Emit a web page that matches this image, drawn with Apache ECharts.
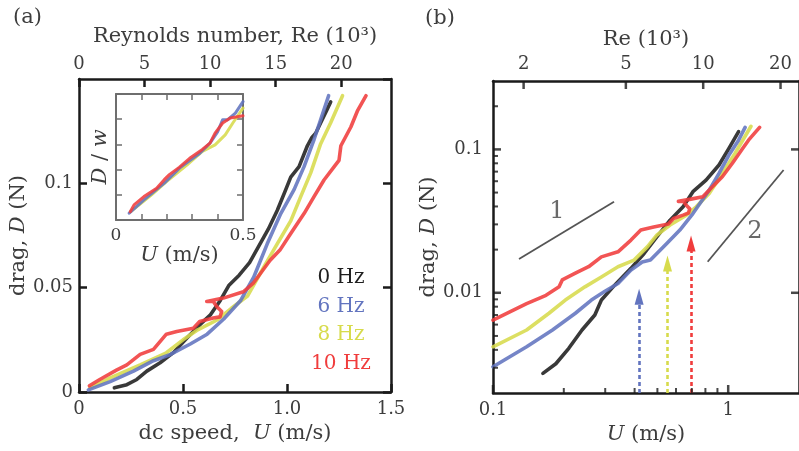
<!DOCTYPE html>
<html>
<head>
<meta charset="utf-8">
<script src="https://cdn.jsdelivr.net/npm/echarts@6/dist/echarts.min.js"></script>
<style>
html, body { margin: 0; padding: 0; background: #fff; }
#main { width: 799px; height: 451px; }
</style>
</head>
<body>
<div id="main"></div>
<script>
// ---- data, panel (a): [U (m/s), D (N)]
var aBlack = [[0.17,0.002],[0.23,0.0035],[0.278,0.006],[0.326,0.01],[0.39,0.014],[0.455,0.019],[0.52,0.026],[0.584,0.0325],[0.632,0.037],[0.68,0.044],[0.72,0.051],[0.77,0.056],[0.82,0.062],[0.865,0.07],[0.91,0.078],[0.953,0.087],[0.994,0.097],[1.018,0.103],[1.058,0.108],[1.098,0.118],[1.12,0.122],[1.138,0.124],[1.162,0.129],[1.186,0.134],[1.21,0.139]];
var aBlue = [[0.045,0.001],[0.15,0.005],[0.262,0.01],[0.358,0.015],[0.44,0.018],[0.535,0.023],[0.616,0.0277],[0.696,0.035],[0.776,0.0437],[0.84,0.055],[0.905,0.071],[0.97,0.0855],[1.034,0.097],[1.082,0.108],[1.13,0.121],[1.162,0.1305],[1.2,0.142]];
var aYellow = [[0.053,0.002],[0.15,0.0068],[0.294,0.013],[0.42,0.0188],[0.5,0.025],[0.566,0.0295],[0.664,0.0345],[0.731,0.04],[0.81,0.046],[0.889,0.06],[0.953,0.071],[1.018,0.082],[1.066,0.0936],[1.114,0.105],[1.162,0.119],[1.21,0.129],[1.267,0.142]];
var aRed = [[0.05,0.003],[0.1,0.006],[0.18,0.0105],[0.23,0.013],[0.294,0.018],[0.358,0.0204],[0.42,0.0277],[0.47,0.029],[0.55,0.0306],[0.58,0.0338],[0.645,0.0355],[0.678,0.036],[0.686,0.0386],[0.662,0.041],[0.646,0.0434],[0.614,0.0434],[0.694,0.045],[0.79,0.048],[0.837,0.052],[0.918,0.063],[0.966,0.068],[1.018,0.076],[1.082,0.0855],[1.13,0.0936],[1.178,0.1016],[1.227,0.108],[1.25,0.111],[1.259,0.118],[1.307,0.127],[1.34,0.135],[1.38,0.142]];

// inset: [U, D/w (arb.)]
var inBlue = [[0.052,0.27],[0.11,0.8],[0.19,1.46],[0.25,2.06],[0.33,2.65],[0.37,3.05],[0.4,3.5],[0.42,3.98],[0.44,3.98],[0.47,4.24],[0.5,4.7]];
var inYellow = [[0.058,0.33],[0.14,1.0],[0.2,1.53],[0.28,2.19],[0.34,2.72],[0.39,2.98],[0.43,3.38],[0.46,3.85],[0.5,4.44]];
var inRed = [[0.056,0.33],[0.071,0.6],[0.11,0.93],[0.16,1.26],[0.19,1.6],[0.21,1.8],[0.25,2.1],[0.29,2.45],[0.34,2.8],[0.37,3.05],[0.39,3.45],[0.42,3.85],[0.45,4.05],[0.5,4.14]];

// ---- data, panel (b): [U (m/s), D (N)]
var bBlack = [[0.163,0.00274],[0.185,0.0032],[0.21,0.0041],[0.239,0.0055],[0.271,0.007],[0.289,0.0089],[0.329,0.0113],[0.386,0.0148],[0.439,0.0188],[0.498,0.0246],[0.566,0.0321],[0.643,0.0398],[0.708,0.0507],[0.805,0.061],[0.914,0.0778],[1.007,0.1016],[1.107,0.133]];
var bBlue = [[0.1,0.00305],[0.139,0.0042],[0.179,0.0055],[0.224,0.0072],[0.262,0.0089],[0.298,0.0102],[0.34,0.0116],[0.386,0.0144],[0.431,0.0164],[0.467,0.0169],[0.548,0.0221],[0.623,0.0274],[0.708,0.0357],[0.83,0.052],[0.914,0.068],[1.007,0.0913],[1.107,0.116],[1.18,0.1425]];
var bYellow = [[0.1,0.0042],[0.139,0.0055],[0.173,0.0072],[0.203,0.0089],[0.246,0.011],[0.289,0.0129],[0.34,0.0152],[0.398,0.0169],[0.453,0.0209],[0.498,0.0253],[0.566,0.0297],[0.664,0.0348],[0.731,0.0398],[0.83,0.0493],[0.944,0.068],[1.07,0.094],[1.25,0.145]];
var bRed = [[0.1,0.00645],[0.139,0.0084],[0.168,0.0096],[0.191,0.011],[0.197,0.0123],[0.224,0.0137],[0.255,0.0152],[0.289,0.0178],[0.34,0.0193],[0.386,0.0233],[0.425,0.0274],[0.482,0.0288],[0.557,0.0302],[0.585,0.033],[0.643,0.0348],[0.678,0.036],[0.686,0.0386],[0.662,0.041],[0.646,0.0434],[0.614,0.0434],[0.694,0.045],[0.78,0.0468],[0.857,0.055],[0.944,0.0645],[1.04,0.0798],[1.14,0.099],[1.22,0.116],[1.36,0.1425]];

var slope1 = [[0.129,0.0172],[0.327,0.0432]];
var slope2 = [[0.818,0.01645],[1.72,0.0718]];
var slopeLabels = [['1',0.187,0.0366],['2',1.30,0.0267]];
var arrowU = [0.418, 0.552, 0.695];
var arrowTip = [0.0094, 0.016, 0.0221];

var hzLabels = ['0 Hz', '6 Hz', '8 Hz', '10 Hz'];
var colors = ['#1e1e1e', '#6274bf', '#d7db4c', '#f03c3c'];

// panel (b) ranges and tick values
var bUmin = 0.1, bUmax = 2, bDmin = 0.002, bDmax = 0.3, bReMin = 1.52, bReMax = 23.6;
var bMajorU = [0.1, 1];
var bMinorU = [0.2,0.3,0.4,0.5,0.6,0.7,0.8,0.9];
var bMajorD = [0.01, 0.1];
var bMinorD = [0.003,0.004,0.005,0.006,0.007,0.008,0.009,0.02,0.03,0.04,0.05,0.06,0.07,0.08,0.09,0.2];
var bReTicks = [2, 5, 10, 20];

var FONT = 'DejaVu Serif';
var INK = '#1a1a1a';
var TXT = '#3d3d3d';
var GREY = '#6e6e6e';

function lg(v) { return Math.log10(v); }
function logPts(arr) { return arr.map(function (p) { return [lg(p[0]), lg(p[1])]; }); }

var nameStyle = {
  fontFamily: FONT, fontSize: 21, color: TXT,
  rich: { i: { fontFamily: FONT, fontSize: 21, color: TXT, fontStyle: 'italic' } }
};

function axis(o) {
  var base = {
    type: 'value',
    axisLine: { show: true, onZero: false, lineStyle: { color: INK, width: 2.5 } },
    axisTick: { show: true, inside: true, length: 8, lineStyle: { color: INK, width: 2.5 } },
    axisLabel: { show: false, color: TXT, fontFamily: FONT, fontSize: 18 },
    splitLine: { show: false },
    nameLocation: 'middle',
    nameTextStyle: nameStyle
  };
  for (var k in o) {
    if (base[k] && typeof base[k] === 'object' && !Array.isArray(base[k]) && typeof o[k] === 'object') {
      base[k] = Object.assign({}, base[k], o[k]);
    } else {
      base[k] = o[k];
    }
  }
  return base;
}

var insetLine = { lineStyle: { color: GREY, width: 2 } };
var insetTick = { length: 6, lineStyle: { color: GREY, width: 1.5 } };
var noTick = { show: false };

var xAxes = [
  // 0: (a) bottom
  axis({ gridIndex: 0, position: 'bottom', min: 0, max: 1.5, interval: 0.5,
    axisLabel: { show: true, margin: 8, formatter: function (v) { return v === 0 ? '0' : v.toFixed(1); } },
    name: 'dc speed,  {i|U} (m/s)', nameGap: 27 }),
  // 1: (a) top Re
  axis({ gridIndex: 0, position: 'top', min: 0, max: 23.8, interval: 5,
    axisLabel: { show: true, margin: 6, showMaxLabel: false },
    name: 'Reynolds number, Re (10³)', nameGap: 32 }),
  // 2: inset bottom
  axis({ gridIndex: 1, position: 'bottom', min: 0, max: 0.5, interval: 0.1,
    axisLine: insetLine, axisTick: insetTick,
    axisLabel: { show: true, margin: 7, fontSize: 17,
      formatter: function (v) { return v === 0 ? '0' : (Math.abs(v - 0.5) < 1e-9 ? '0.5' : ''); } },
    name: '{i|U} (m/s)', nameGap: 12 }),
  // 3: inset top
  axis({ gridIndex: 1, position: 'top', min: 0, max: 0.5, interval: 0.1,
    axisLine: insetLine, axisTick: insetTick }),
  // 4: (b) bottom, log10(U)
  axis({ gridIndex: 2, position: 'bottom', min: lg(bUmin), max: lg(bUmax),
    axisTick: noTick,
    axisLabel: { show: true, margin: 8, customValues: bMajorU.map(lg),
      formatter: function (v) { return String(Math.round(Math.pow(10, v) * 10) / 10); } },
    name: '{i|U} (m/s)', nameGap: 28 }),
  // 5: (b) top, log10(Re)
  axis({ gridIndex: 2, position: 'top', min: lg(bReMin), max: lg(bReMax),
    axisTick: noTick,
    axisLabel: { show: true, margin: 8, customValues: bReTicks.map(lg),
      formatter: function (v) { return String(Math.round(Math.pow(10, v))); } },
    name: 'Re (10³)', nameGap: 31 })
];

var yAxes = [
  // 0: (a) left
  axis({ gridIndex: 0, position: 'left', min: 0, max: 0.15, interval: 0.05,
    axisLabel: { show: true, margin: 6, showMaxLabel: false },
    name: 'drag, {i|D} (N)', nameGap: 47 }),
  // 1: (a) right
  axis({ gridIndex: 0, position: 'right', min: 0, max: 0.15, interval: 0.05 }),
  // 2: inset left
  axis({ gridIndex: 1, position: 'left', min: 0, max: 5, interval: 1,
    axisLine: insetLine, axisTick: insetTick,
    name: '{i|D} / {i|w}', nameGap: 5 }),
  // 3: inset right
  axis({ gridIndex: 1, position: 'right', min: 0, max: 5, interval: 1,
    axisLine: insetLine, axisTick: insetTick }),
  // 4: (b) left, log10(D)
  axis({ gridIndex: 2, position: 'left', min: lg(bDmin), max: lg(bDmax),
    axisTick: noTick,
    axisLabel: { show: true, margin: 10, customValues: bMajorD.map(lg),
      formatter: function (v) { return String(Math.round(Math.pow(10, v) * 100) / 100); } },
    name: 'drag, {i|D} (N)', nameGap: 44 }),
  // 5: (b) right
  axis({ gridIndex: 2, position: 'right', min: lg(bDmin), max: lg(bDmax), axisTick: noTick })
];

function curve(data, color, xi, yi, w) {
  return {
    type: 'line', data: data, xAxisIndex: xi, yAxisIndex: yi,
    symbol: 'none', silent: true, clip: true,
    lineStyle: { color: color, width: w || 3.6, opacity: 0.88, join: 'round', cap: 'round' }
  };
}

// log-axis tick marks for panel (b), placed through the grid's own scales
function ticks(points, xi, yi, size, offset) {
  return {
    type: 'scatter', xAxisIndex: xi, yAxisIndex: yi, silent: true, clip: false, z: 5,
    symbol: 'rect', symbolSize: size, symbolOffset: offset,
    itemStyle: { color: INK }, data: points
  };
}

var series = [];
var order = [0, 2, 1, 3];
var aSets = [aBlack, aBlue, aYellow, aRed];
var bSets = [bBlack, bBlue, bYellow, bRed];
order.forEach(function (i) { series.push(curve(aSets[i], colors[i], 0, 0)); });
[[inYellow, 2], [inBlue, 1], [inRed, 3]].forEach(function (s) {
  series.push(curve(s[0], colors[s[1]], 2, 2, 3));
});
order.forEach(function (i) { series.push(curve(logPts(bSets[i]), colors[i], 4, 4)); });

// slope guides
[slope1, slope2].forEach(function (s) {
  series.push({ type: 'line', data: logPts(s), xAxisIndex: 4, yAxisIndex: 4, symbol: 'none', silent: true,
    lineStyle: { color: '#555', width: 1.8 } });
});
series.push({
  type: 'scatter', xAxisIndex: 4, yAxisIndex: 4, silent: true, symbolSize: 1,
  itemStyle: { color: 'rgba(0,0,0,0)' },
  data: slopeLabels.map(function (s) { return { name: s[0], value: [lg(s[1]), lg(s[2])] }; }),
  label: { show: true, position: 'inside', formatter: '{b}', fontFamily: FONT, fontSize: 24, color: '#444' }
});

// dashed arrows
arrowU.forEach(function (u, k) {
  series.push({
    type: 'line', data: [], xAxisIndex: 4, yAxisIndex: 4, silent: true,
    markLine: {
      silent: true, symbol: ['none', 'triangle'], symbolSize: [9, 16],
      label: { show: false },
      lineStyle: { color: colors[k + 1], width: 2.6, type: [4, 3] },
      data: [[{ coord: [lg(u), lg(bDmin)] }, { coord: [lg(u), lg(arrowTip[k])] }]]
    }
  });
});

// tick marks on the log axes of panel (b)
series.push(ticks(bMajorU.map(function (u) { return [lg(u), lg(bDmin)]; }), 4, 4, [2.5, 8], [0, -4]));
series.push(ticks(bMinorU.map(function (u) { return [lg(u), lg(bDmin)]; }), 4, 4, [2, 5], [0, -2.5]));
series.push(ticks(bMajorD.map(function (d) { return [lg(bUmin), lg(d)]; }), 4, 4, [8, 2.5], [4, 0]));
series.push(ticks(bMinorD.map(function (d) { return [lg(bUmin), lg(d)]; }), 4, 4, [5, 2], [2.5, 0]));
series.push(ticks(bMajorD.map(function (d) { return [lg(bUmax), lg(d)]; }), 4, 4, [8, 2.5], [-4, 0]));
series.push(ticks(bReTicks.map(function (r) { return [lg(r), lg(bDmax)]; }), 5, 4, [2.5, 8], [0, 4]));

var graphics = [
  { type: 'text', left: 13, top: 7, style: { text: '(a)', font: '21px "' + FONT + '"', fill: TXT } },
  { type: 'text', left: 425, top: 8, style: { text: '(b)', font: '21px "' + FONT + '"', fill: TXT } }
];
hzLabels.forEach(function (t, i) {
  graphics.push({ type: 'text', x: 341, y: 278 + i * 28.5,
    style: { text: t, font: '20px "' + FONT + '"', fill: colors[i], align: 'center', verticalAlign: 'middle' } });
});

var chart = echarts.init(document.getElementById('main'));
chart.setOption({
  animation: false,
  backgroundColor: '#fff',
  grid: [
    { left: 79, top: 79, width: 312, height: 313 },
    { left: 116, top: 94, width: 127, height: 126 },
    { left: 493, top: 81, width: 312, height: 312 }
  ],
  xAxis: xAxes,
  yAxis: yAxes,
  series: series,
  graphic: graphics
});
window.addEventListener('resize', chart.resize);
</script>
</body>
</html>
